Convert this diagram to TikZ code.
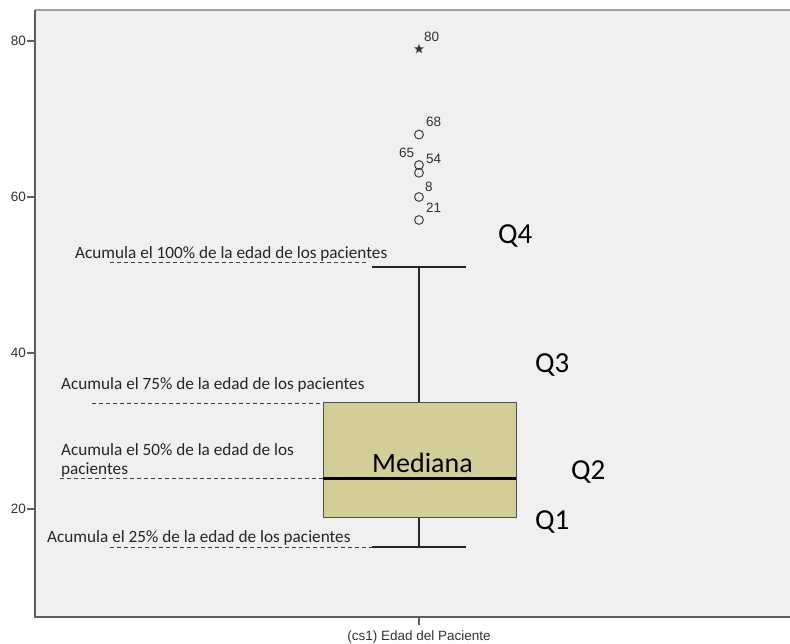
\documentclass[tikz,border=0pt]{standalone}
\usepackage{fontspec}
\setmainfont{Carlito}
\newfontfamily\arialfont{Liberation Sans}
\usetikzlibrary{shapes.geometric}
\definecolor{plotbg}{HTML}{F0F0F0}
\definecolor{boxfill}{HTML}{D3CE98}
\definecolor{framegray}{HTML}{5F5F5F}
\tikzset{
  nota/.style={font=\fontsize{17.2}{19}\selectfont, anchor=base west, inner sep=0pt, text=black!85},
  quart/.style={font=\fontsize{29}{32}\selectfont, anchor=base west, inner sep=0pt},
  etiq/.style={font=\arialfont\fontsize{13.5}{15}\selectfont, inner sep=0pt, text=black!80},
  guia/.style={dash pattern=on 4pt off 3pt, line width=0.8pt, black!75},
  bigote/.style={line width=1.4pt, black!85},
  atipico/.style={draw=black!75, line width=1pt},
}

\begin{document}
\begin{tikzpicture}[x=1pt,y=7.8pt]
			\useasboundingbox (0,2.692) rectangle (790,85.256);
			\fill[white] (0,2.692) rectangle (790,85.256);
			\fill[plotbg] (35,83.97) rectangle (790,6.15);
			% marco del grafico
			\draw[gray!75, line width=1.5pt] (35,83.97) -- (790,83.97);
			\draw[framegray, line width=2pt] (35,83.97) -- (35,6.15) -- (790,6.15);
			\foreach \v in {20,40,60,80} {
				\draw[framegray, line width=1.2pt] (27,\v) -- (35,\v);
				\draw (26,\v) node[etiq, anchor=east] (tick\v) {\v};
			}
			\draw[framegray, line width=1.2pt] (419,6.15) -- (419,5.13);
			\draw (419,3.2) node[etiq, anchor=base] (ejex) {(cs1) Edad del Paciente};
			% bigotes y caja
			\coordinate (maximo) at (419,51.03);
			\coordinate (minimo) at (419,15.13);
			\draw[bigote] (maximo) -- (419,33.6);
			\draw[bigote] (419,18.97) -- (minimo);
			\draw[bigote] (372,51.03) -- (466,51.03);
			\draw[bigote] (372,15.13) -- (466,15.13);
			\filldraw[fill=boxfill, draw=black!70, line width=1pt] (323,18.97) rectangle (516,33.6);
			\draw[line width=3pt] (323,23.97) -- (516,23.97);
			\draw (372,24.62) node[quart, font=\fontsize{28}{30}\selectfont] (mediana) {Mediana};
			% atipicos
			\foreach \v in {68,64.1,63.1,60,57.05}
				\draw[atipico] (419,\v) circle (4.4pt);
			\node[star, star points=5, star point ratio=2.4, fill=black!80, inner sep=0pt, minimum size=10pt] (extremo) at (419,78.97) {};
			\draw (424,79.87) node[etiq, anchor=base west] (n80) {80};
			\draw (426,69.1) node[etiq, anchor=base west] (n68) {68};
			\draw (399,65.0) node[etiq, anchor=base west] (n65) {65};
			\draw (426,64.23) node[etiq, anchor=base west] (n54) {54};
			\draw (425,60.64) node[etiq, anchor=base west] (n8) {8};
			\draw (426,57.95) node[etiq, anchor=base west] (n21) {21};
			% notas y lineas guia
			\draw (75,52.05) node[nota] (cien) {Acumula el 100\% de la edad de los pacientes};
			\draw (61,35.38) node[nota] (setenta) {Acumula el 75\% de la edad de los pacientes};
			\draw (61,24.36) node[nota, align=left] (cincuenta) {Acumula el 50\% de la edad de los\\pacientes};
			\draw (47,15.64) node[nota] (veinti) {Acumula el 25\% de la edad de los pacientes};
			\draw[guia] (110,51.6) -- (367,51.6);
			\draw[guia] (92,33.6) -- (323,33.6);
			\draw[guia] (60,23.97) -- (323,23.97);
			\draw[guia] (110,15.13) -- (373,15.13);
			% cuartiles
			\draw (498,54.10) node[quart] (qcuatro) {Q4};
			\draw (535,37.44) node[quart] (qtres) {Q3};
			\draw (571,23.72) node[quart] (qdos) {Q2};
			\draw (535,17.31) node[quart] (quno) {Q1};
		\end{tikzpicture}
\end{document}
